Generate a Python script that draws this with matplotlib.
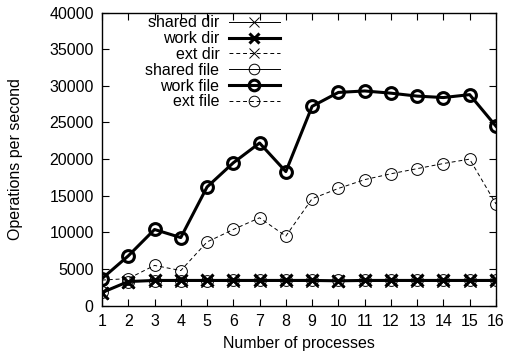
import numpy as np
import matplotlib.pyplot as plt

plt.rcParams['font.family'] = ['Liberation Sans', 'DejaVu Sans']
plt.rcParams['font.size'] = 11.5

procs = np.arange(1, 17)

shared_dir = [1800, 3300, 3400, 3400, 3400, 3400, 3400, 3400,
              3400, 3400, 3400, 3400, 3400, 3400, 3400, 3400]
work_dir = [1800, 3300, 3450, 3450, 3450, 3450, 3450, 3450,
            3450, 3400, 3450, 3450, 3450, 3450, 3450, 3450]
ext_dir = [1800, 3300, 3400, 3400, 3400, 3400, 3400, 3400,
           3400, 3400, 3400, 3400, 3400, 3400, 3400, 3400]
shared_file = [1900, 3300, 3400, 3400, 3400, 3450, 3450, 3450,
               3450, 3450, 3450, 3450, 3450, 3450, 3450, 3450]
work_file = [3700, 6800, 10400, 9300, 16200, 19500, 22200, 18300,
             27200, 29100, 29300, 29000, 28600, 28400, 28800, 24500]
ext_file = [3500, 3700, 5500, 4800, 8700, 10400, 12000, 9500,
            14600, 16000, 17200, 18000, 18700, 19400, 20000, 13900]

fig = plt.figure(figsize=(5.05, 3.58), dpi=100)
ax = fig.add_axes([0.202, 0.146, 0.78, 0.819])

thin, thick = 0.7, 2.2
dash = (4, 3)
ax.plot(procs, shared_dir, '-', color='black', lw=thin, marker='x', ms=8, mew=thin, label='shared dir')
ax.plot(procs, work_dir, '-', color='black', lw=thick, marker='x', ms=8, mew=thick, label='work dir')
ax.plot(procs, ext_dir, '--', color='black', lw=thin, dashes=dash, marker='x', ms=8, mew=thin, label='ext dir')
ax.plot(procs, shared_file, '-', color='black', lw=thin, marker='o', ms=8.5, mew=thin, mfc='none', label='shared file')
ax.plot(procs, work_file, '-', color='black', lw=thick, marker='o', ms=8.5, mew=thick, mfc='none', label='work file')
ax.plot(procs, ext_file, '--', color='black', lw=thin, dashes=dash, marker='o', ms=8.5, mew=thin, mfc='none', label='ext file')

ax.set_xlim(1, 16)
ax.set_ylim(0, 40000)
ax.set_xticks(procs)
ax.set_yticks(np.arange(0, 40001, 5000))
ax.tick_params(direction='in', top=True, right=True, length=5, pad=6)
for s in ax.spines.values():
    s.set_linewidth(1.0)

ax.set_xlabel('Number of processes', labelpad=5)
ax.set_ylabel('Operations per second', labelpad=19)

leg = ax.legend(loc='upper right', bbox_to_anchor=(0.452, 0.99), frameon=False,
                markerfirst=False, handlelength=3.2, labelspacing=0.05,
                handletextpad=0.6, borderaxespad=0, borderpad=0, markerscale=0.9)
leg._legend_box.align = 'right'
for t in leg.get_texts():
    t.set_ha('right')

fig.savefig('out.png', dpi=100)
